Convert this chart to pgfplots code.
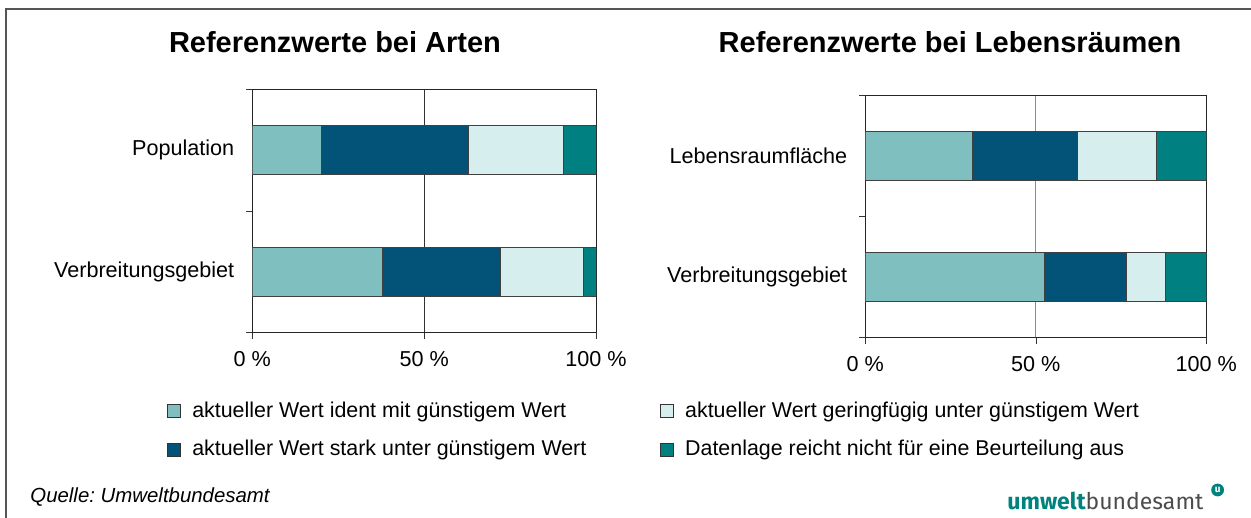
\documentclass[border=0pt]{standalone}
\usepackage{fontspec}
\setmainfont{Liberation Sans}
\newfontfamily\logofont{Fira Sans}
\usepackage{pgfplots}
\pgfplotsset{compat=1.18}
\frenchspacing

\definecolor{cIdent}{RGB}{128,191,191}
\definecolor{cStark}{RGB}{3,83,120}
\definecolor{cGering}{RGB}{214,238,238}
\definecolor{cDaten}{RGB}{0,128,128}
\definecolor{cFrame}{RGB}{85,85,85}
\definecolor{cLogo}{RGB}{0,131,126}

\newcommand{\lblfont}{\fontsize{10.8}{12.5}\selectfont}

\pgfplotsset{
  refbar/.style={
    xbar stacked, scale only axis, anchor=south west,
    xmin=0, xmax=100, ymin=0, ymax=2,
    xtick={0,50,100}, xticklabels={0 \%,50 \%,100 \%},
    xmajorgrids,
    ytick={0.5,1.5}, minor ytick={0,1,2},
    major y tick style={draw=none},
    xtick pos=bottom, ytick pos=left,
    tick align=outside,
    major tick length=3pt, minor tick length=3pt,
    tick style={black!80},
    axis line style={black!85},
    bar width=0.4,
    every axis plot/.append style={draw=black!75, line width=0.4pt},
    tick label style={font=\lblfont},
    xticklabel style={yshift=-3pt},
    yticklabel style={xshift=-2.5pt},
    legend style={draw=none, fill=none, inner xsep=0pt, inner ysep=0pt,
      font=\fontsize{10.7}{12.5}\selectfont, anchor=north west, row sep=6pt,
      nodes={inner sep=2pt}},
    legend cell align=left,
    legend image code/.code={
      \draw[#1, draw=black!80, line width=0.5pt] (0pt,-3.25pt) rectangle (6.5pt,3.25pt);
      \path (10pt,0pt);},
  }
}

\begin{document}
\begin{tikzpicture}
\path[use as bounding box] (0,0) rectangle (625.5pt,259pt);
\draw[cFrame, line width=1pt] (3pt,0pt) -- (3pt,254.5pt) -- (625.5pt,254.5pt);

\node[anchor=base, font=\fontsize{14.5}{17}\selectfont\bfseries] at (167.5pt,232.5pt) {Referenzwerte bei Arten};
\node[anchor=base, font=\fontsize{14.5}{17}\selectfont\bfseries] at (475pt,232.5pt) {Referenzwerte bei Lebensräumen};

% Arten
\begin{axis}[refbar,
  at={(126.15pt,92.65pt)}, width=171.85pt, height=121.7pt,
  grid style={black!80, line width=0.5pt},
  yticklabels={Verbreitungsgebiet,Population},
  legend style={at={(axis description cs:-0.2483,-0.266)}},
]
\addplot[fill=cIdent, forget plot]  coordinates {(37.9,0.5) (20.1,1.5)};
\addplot[fill=cStark, forget plot]  coordinates {(34.3,0.5) (42.7,1.5)};
\addplot[fill=cGering, forget plot] coordinates {(24.0,0.5) (27.7,1.5)};
\addplot[fill=cDaten, forget plot]  coordinates {(3.8,0.5) (9.5,1.5)};
\addlegendimage{fill=cIdent}
\addlegendentry{aktueller Wert ident mit günstigem Wert}
\addlegendimage{fill=cStark}
\addlegendentry{aktueller Wert stark unter günstigem Wert}
\end{axis}

% Lebensraeume
\begin{axis}[refbar,
  at={(432.65pt,90.15pt)}, width=170.5pt, height=121.35pt,
  grid style={black!45, line width=0.5pt},
  yticklabels={Verbreitungsgebiet,Lebensraumfläche},
  legend style={at={(axis description cs:-0.6025,-0.246)}},
]
\addplot[fill=cIdent, forget plot]  coordinates {(52.4,0.5) (31.4,1.5)};
\addplot[fill=cStark, forget plot]  coordinates {(24.1,0.5) (30.8,1.5)};
\addplot[fill=cGering, forget plot] coordinates {(11.4,0.5) (23.3,1.5)};
\addplot[fill=cDaten, forget plot]  coordinates {(12.1,0.5) (14.5,1.5)};
\addlegendimage{fill=cGering}
\addlegendentry{aktueller Wert geringfügig unter günstigem Wert}
\addlegendimage{fill=cDaten}
\addlegendentry{Datenlage reicht nicht für eine Beurteilung aus}
\end{axis}

\node[anchor=base west, inner sep=0pt, font=\fontsize{10.2}{12}\selectfont\itshape] at (15pt,7.5pt) {Quelle: Umweltbundesamt};
\node[anchor=base west, inner sep=0pt, font=\logofont\fontsize{11.5}{13}\selectfont] at (503.5pt,4pt)
  {\textcolor{cLogo}{\bfseries umwelt}\textcolor{black!70}{bundesamt}};
\fill[cLogo] (608.8pt,14pt) circle (3.2pt);
\node[white, font=\logofont\bfseries\fontsize{5}{5}\selectfont, inner sep=0pt] at (608.8pt,13.8pt) {u};
\end{tikzpicture}
\end{document}
